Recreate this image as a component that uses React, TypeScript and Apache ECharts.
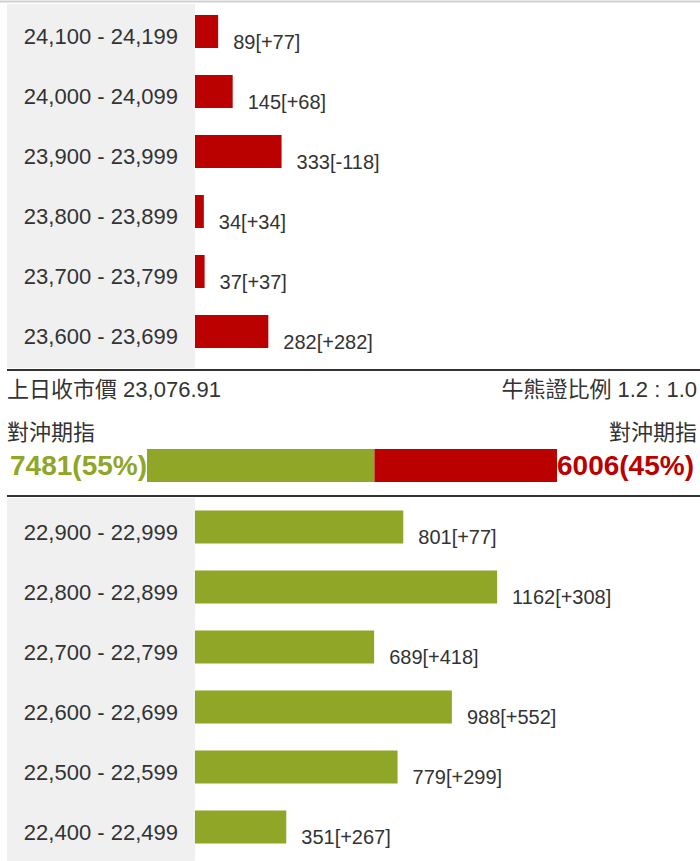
import React, { useEffect, useRef } from "react";
import * as echarts from "echarts";

const topCategories = ["24,100 - 24,199", "24,000 - 24,099", "23,900 - 23,999", "23,800 - 23,899", "23,700 - 23,799", "23,600 - 23,699"];
const topValues = [89, 145, 333, 34, 37, 282];
const topChanges = [77, 68, -118, 34, 37, 282];

const bottomCategories = ["22,900 - 22,999", "22,800 - 22,899", "22,700 - 22,799", "22,600 - 22,699", "22,500 - 22,599", "22,400 - 22,499"];
const bottomValues = [801, 1162, 689, 988, 779, 351];
const bottomChanges = [77, 308, 418, 552, 299, 267];

const hedgeLabels = ["對沖期指", "對沖期指"];
const hedgeValues = [7481, 6006];
const prevClose = "23,076.91";
const cbbcRatio = "1.2 : 1.0";

const RED = "#BB0000";
const GREEN = "#8FA626";
const FONT = '"Liberation Sans", Arial, "Noto Sans CJK TC", sans-serif';

const fmtChange = (c: number) => (c >= 0 ? "+" + c : String(c));

export default function App() {
  const ref = useRef<HTMLDivElement>(null);
  useEffect(() => {
    if (!ref.current) return;
    const chart = echarts.init(ref.current, null, { renderer: "svg", width: 700, height: 861 });
    const total = hedgeValues[0] + hedgeValues[1];
    const pct = (v: number) => Math.round((v / total) * 100);

    const catAxis = (gridIndex: number, data: string[]) => ({
      type: "category" as const,
      gridIndex,
      data,
      inverse: true,
      axisLine: { show: false },
      axisTick: { show: false },
      splitLine: { show: false },
      axisLabel: {
        margin: 17,
        fontSize: 22,
        fontFamily: FONT,
        color: "#333",
        verticalAlign: "top",
        lineHeight: 10,
      },
    });
    const valAxis = (gridIndex: number, max: number) => ({
      type: "value" as const,
      gridIndex,
      min: 0,
      max,
      show: false,
      splitLine: { show: false },
    });
    const barLabel = (changes: number[]) => ({
      show: true,
      position: "right" as const,
      distance: 15,
      offset: [0, 10],
      fontSize: 20,
      fontFamily: FONT,
      color: "#333",
      formatter: (p: any) => `${p.value}[${fmtChange(changes[p.dataIndex])}]`,
    });

    chart.setOption({
      animation: false,
      backgroundColor: "#fff",
      grid: [
        { left: 195, top: 1.5, width: 312, height: 360 },
        { left: 195, top: 497, width: 312, height: 360 },
        { left: 147, top: 449, width: 410, height: 33 },
      ],
      xAxis: [valAxis(0, 1200), valAxis(1, 1200), valAxis(2, total)],
      yAxis: [
        catAxis(0, topCategories),
        catAxis(1, bottomCategories),
        { type: "category", gridIndex: 2, data: [hedgeLabels[0]], show: false },
      ],
      graphic: [
        { type: "rect", z: -10, shape: { x: 7, y: 4, width: 188, height: 364 }, style: { fill: "#f0f0f0" } },
        { type: "rect", z: -10, shape: { x: 7, y: 498, width: 188, height: 363 }, style: { fill: "#f0f0f0" } },
        { type: "line", shape: { x1: 0, y1: 1.5, x2: 700, y2: 1.5 }, style: { stroke: "#d0d0d0", lineWidth: 2 } },
        { type: "line", shape: { x1: 7, y1: 370, x2: 700, y2: 370 }, style: { stroke: "#333", lineWidth: 2 } },
        { type: "line", shape: { x1: 7, y1: 496, x2: 700, y2: 496 }, style: { stroke: "#333", lineWidth: 2 } },
        {
          type: "text",
          x: 7,
          y: 389,
          style: { text: "上日收市價 " + prevClose, font: `22px ${FONT}`, fill: "#333", align: "left", verticalAlign: "middle" },
        },
        {
          type: "text",
          x: 697,
          y: 389,
          style: { text: "牛熊證比例 " + cbbcRatio, font: `22px ${FONT}`, fill: "#333", align: "right", verticalAlign: "middle" },
        },
        {
          type: "text",
          x: 7,
          y: 432,
          style: { text: hedgeLabels[0], font: `22px ${FONT}`, fill: "#333", align: "left", verticalAlign: "middle" },
        },
        {
          type: "text",
          x: 697,
          y: 432,
          style: { text: hedgeLabels[1], font: `22px ${FONT}`, fill: "#333", align: "right", verticalAlign: "middle" },
        },
      ],
      series: [
        {
          type: "bar",
          xAxisIndex: 0,
          yAxisIndex: 0,
          data: topValues,
          barWidth: 33,
          itemStyle: { color: RED },
          label: barLabel(topChanges),
        },
        {
          type: "bar",
          xAxisIndex: 1,
          yAxisIndex: 1,
          data: bottomValues,
          barWidth: 33,
          itemStyle: { color: GREEN },
          label: barLabel(bottomChanges),
        },
        {
          type: "bar",
          xAxisIndex: 2,
          yAxisIndex: 2,
          stack: "hedge",
          data: [hedgeValues[0]],
          barWidth: 33,
          itemStyle: { color: GREEN },
          label: {
            show: true,
            position: "left",
            distance: 0,
            fontSize: 28,
            fontWeight: "bold",
            fontFamily: FONT,
            color: GREEN,
            formatter: (p: any) => `${p.value}(${pct(p.value)}%)`,
          },
        },
        {
          type: "bar",
          xAxisIndex: 2,
          yAxisIndex: 2,
          stack: "hedge",
          data: [hedgeValues[1]],
          barWidth: 33,
          itemStyle: { color: RED },
          label: {
            show: true,
            position: "right",
            distance: 0,
            fontSize: 28,
            fontWeight: "bold",
            fontFamily: FONT,
            color: RED,
            formatter: (p: any) => `${p.value}(${pct(p.value)}%)`,
          },
        },
      ],
    });
    return () => chart.dispose();
  }, []);
  return <div ref={ref} style={{ position: "fixed", left: 0, top: 0, width: 700, height: 861 }} />;
}
